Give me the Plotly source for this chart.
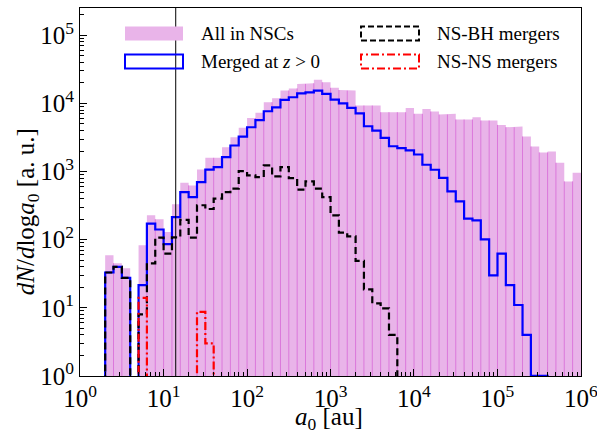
import numpy as np
import plotly.graph_objects as go

# ---------------- data ----------------
# histogram bins in log10(a0 / au): 57 bins from log10(2) to 6
log_a_min = np.log10(2.0)
log_a_max = 6.0
n_bins = 57

all_nsc = [59, 45, 38, 0, 83, 228, 199, 130, 330, 686,
           626, 1072, 1590, 1590, 2276, 3186, 4375, 6100, 7300, 10380,
           11900, 15400, 16600, 19300, 19700, 22300, 20400, 16900, 15700, 15400,
           9290, 9290, 9290, 7410, 7410, 7410, 8590, 7020, 8310, 7590,
           6860, 7020, 5790, 5790, 6260, 5600, 5600, 4840, 4470, 4575,
           3265, 2330, 1905, 1970, 1345, 716, 960]

merged = [33, 40, 27.5, 0, 21.5, 172, 141, 86, 215, 500,
          422, 700, 1070, 1160, 1630, 2410, 3265, 4470, 5700, 7670,
          8770, 11230, 12300, 14060, 14560, 15400, 13770, 11370, 10000, 8590,
          7160, 4620, 3990, 3120, 2350, 2200, 2040, 1780, 1257, 1062,
          807, 511, 365, 204, 192, 101, 30, 62.5, 21.5, 11,
          4.0, 1.0, 1.0, 0, 0, 0, 0]

ns_bh = [33, 40, 27.5, 0, 8, 45, 107, 62.5, 108, 195,
         107, 320, 282, 400, 500, 560, 1013, 880, 828, 1228,
         848, 1160, 801, 541, 716, 560, 422, 228, 127, 112,
         48.8, 18.6, 11.6, 9.8, 4.0, 0, 0, 0, 0, 0,
         0, 0, 0, 0, 0, 0, 0, 0, 0, 0,
         0, 0, 0, 0, 0, 0, 0]

ns_ns = [0, 0, 0, 0, 14, 0, 0, 0, 0, 0,
         0, 8.75, 3.0, 0, 0, 0, 0, 0, 0, 0,
         0, 0, 0, 0, 0, 0, 0, 0, 0, 0,
         0, 0, 0, 0, 0, 0, 0, 0, 0, 0,
         0, 0, 0, 0, 0, 0, 0, 0, 0, 0,
         0, 0, 0, 0, 0, 0, 0]

threshold_au = 14.0

legend_labels = ["All in NSCs", "Merged at <i>z</i> > 0", "NS-BH mergers", "NS-NS mergers"]
x_title = "<i>a</i><sub>0</sub> [au]"
y_title = "<i>dN</i>/<i>d</i>log<i>a</i><sub>0</sub> [a. u.]"
x_tick_exps = [0, 1, 2, 3, 4, 5, 6]
y_tick_exps = [0, 1, 2, 3, 4, 5]

# ---------------- helpers ----------------
edges = 10 ** np.linspace(log_a_min, log_a_max, n_bins + 1)
FLOOR = 1e-3


def step_path(vals):
    xs = [edges[0]]
    ys = [FLOOR]
    for i, v in enumerate(vals):
        vv = v if v > 0 else FLOOR
        xs += [edges[i], edges[i + 1]]
        ys += [vv, vv]
    xs.append(edges[-1])
    ys.append(FLOOR)
    return xs, ys


PINK_FILL = "rgb(233,180,233)"
PINK_EDGE = "rgb(219,120,219)"
FONT = "Liberation Serif"

fig = go.Figure()

# filled histogram
px_, py_ = step_path(all_nsc)
fig.add_trace(go.Scatter(x=px_, y=py_, mode="lines", fill="toself",
                         fillcolor=PINK_FILL, line=dict(width=0),
                         hoverinfo="skip", showlegend=False))

# bar edge lines
ex, ey = [], []
for j in range(1, n_bins):
    a, b = all_nsc[j - 1], all_nsc[j]
    if a > 0 and b > 0:
        ex += [edges[j], edges[j], None]
        ey += [FLOOR, min(a, b), None]
fig.add_trace(go.Scatter(x=ex, y=ey, mode="lines",
                         line=dict(color=PINK_EDGE, width=1),
                         hoverinfo="skip", showlegend=False))

# step lines
bx, by = step_path(merged)
fig.add_trace(go.Scatter(x=bx, y=by, mode="lines",
                         line=dict(color="#0000ff", width=2.2),
                         showlegend=False))
kx, ky = step_path(ns_bh)
fig.add_trace(go.Scatter(x=kx, y=ky, mode="lines",
                         line=dict(color="black", width=2.2, dash="7px,4px"),
                         showlegend=False))
rx, ry = step_path(ns_ns)
fig.add_trace(go.Scatter(x=rx, y=ry, mode="lines",
                         line=dict(color="#ff0000", width=2.2, dash="8px,3px,2px,3px"),
                         showlegend=False))

# vertical reference line
fig.add_shape(type="line", xref="x", yref="paper", x0=threshold_au, x1=threshold_au,
              y0=0, y1=1, line=dict(color="black", width=1))

# dummy trace for minor-tick axes
fig.add_trace(go.Scatter(x=[10], y=[10], xaxis="x2", yaxis="y2", mode="markers",
                         marker=dict(opacity=0), hoverinfo="skip", showlegend=False))

# ---------------- legend (manual) ----------------
W, H = 501.0, 368.5


def px2paper(x, y):
    return (x - 80.0) / W, (376.0 - y) / H


legend_items = [
    (legend_labels[0], 125, 26, dict(fillcolor=PINK_FILL, line=dict(width=0))),
    (legend_labels[1], 125, 54, dict(fillcolor="rgba(0,0,0,0)", line=dict(color="#0000ff", width=2))),
    (legend_labels[2], 361, 26, dict(fillcolor="rgba(0,0,0,0)", line=dict(color="black", width=2, dash="6px,3px"))),
    (legend_labels[3], 361, 54, dict(fillcolor="rgba(0,0,0,0)", line=dict(color="#ff0000", width=2, dash="8px,3px,2px,3px"))),
]
for label, lx, ly, style in legend_items:
    x0, y1 = px2paper(lx, ly)
    x1, y0 = px2paper(lx + 58, ly + 14)
    fig.add_shape(type="rect", xref="paper", yref="paper", x0=x0, x1=x1, y0=y0, y1=y1, **style)
    tx, ty = px2paper(lx + 74, ly + 7)
    fig.add_annotation(x=tx, y=ty, xref="paper", yref="paper", text=label, showarrow=False,
                       xanchor="left", yanchor="middle",
                       font=dict(family=FONT, size=19, color="black"))

# axis titles as annotations (precise placement)
tx, ty = px2paper(329, 419)
fig.add_annotation(x=tx, y=ty, xref="paper", yref="paper", text=x_title, showarrow=False,
                   xanchor="center", yanchor="middle", font=dict(family=FONT, size=25, color="black"))
tx, ty = px2paper(27, 212)
fig.add_annotation(x=tx, y=ty, xref="paper", yref="paper", text=y_title, showarrow=False,
                   textangle=-90, xanchor="center", yanchor="middle",
                   font=dict(family=FONT, size=25, color="black"))

# ---------------- axes ----------------
x_minor = [m * 10 ** d for d in range(0, 6) for m in range(2, 10)]
y_minor = [m * 10 ** d for d in range(0, 6) for m in range(2, 10) if m * 10 ** d < 2.5e5]
XR = [-0.0004, 6.0004]
YR = [-0.0004, 5.4]

fig.update_layout(
    width=597, height=432,
    margin=dict(l=80, r=16, t=8, b=56, autoexpand=False),
    paper_bgcolor="white", plot_bgcolor="white",
    font=dict(family=FONT, color="black"),
    xaxis=dict(type="log", range=XR, showgrid=False, zeroline=False, automargin=False,
               showline=True, linecolor="black", linewidth=1, mirror=True,
               ticks="inside", ticklen=7, tickwidth=1, tickcolor="black",
               tickvals=[10 ** e for e in x_tick_exps],
               ticktext=["10<sup>%d</sup>" % e for e in x_tick_exps],
               tickfont=dict(family=FONT, size=25), ticklabeloverflow="allow"),
    yaxis=dict(type="log", range=YR, showgrid=False, zeroline=False, automargin=False,
               showline=True, linecolor="black", linewidth=1, mirror=True,
               ticks="inside", ticklen=7, tickwidth=1, tickcolor="black",
               tickvals=[10 ** e for e in y_tick_exps],
               ticktext=["10<sup>%d</sup>" % e for e in y_tick_exps],
               tickfont=dict(family=FONT, size=25), ticklabeloverflow="allow"),
    xaxis2=dict(type="log", range=XR, overlaying="x", anchor="y", side="bottom", automargin=False,
                showgrid=False, zeroline=False, showline=False, showticklabels=False,
                ticks="inside", ticklen=4, tickwidth=1, tickcolor="black", tickvals=x_minor),
    yaxis2=dict(type="log", range=YR, overlaying="y", anchor="x", side="left", automargin=False,
                showgrid=False, zeroline=False, showline=False, showticklabels=False,
                ticks="inside", ticklen=4, tickwidth=1, tickcolor="black", tickvals=y_minor),
    showlegend=False,
)

fig.write_html("out.html")
